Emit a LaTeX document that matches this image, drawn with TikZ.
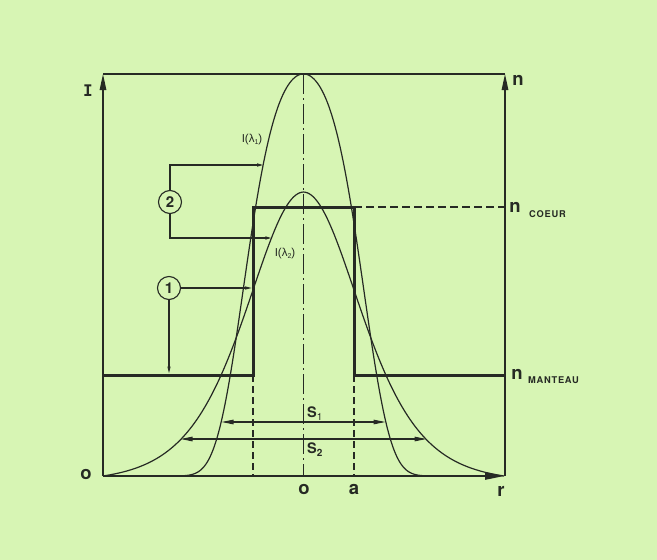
\documentclass[tikz,border=0pt]{standalone}
\usepackage{fontspec}
\setmainfont{TeX Gyre Heros}
\newfontfamily\monoI{DejaVu Sans Mono}
\newfontfamily\labfont{Liberation Sans}
\newfontfamily\spacedfont[LetterSpace=8]{TeX Gyre Heros}
\usetikzlibrary{arrows.meta}
\definecolor{bg}{RGB}{215,245,180}
\definecolor{ink}{RGB}{38,42,36}
\begin{document}
\begin{tikzpicture}[x=1pt,y=-1pt,
  declare function={
    lA(\t)=402*exp(-1.138*(\t/100)*(\t/100)-2.69*(\t/100)*(\t/100)*(\t/100)*(\t/100));
    lB(\t)=284*(1/(cosh(\t/76)*cosh(\t/76))-0.0202)/0.9798;},
  thinl/.style={draw=ink, line width=1.1pt},
  curvel/.style={draw=ink, line width=1.2pt},
  axisl/.style={draw=ink, line width=1.4pt},
  baseaxis/.style={draw=ink, line width=2.4pt},
  stepl/.style={draw=ink, line width=3pt, line join=miter},
  dashl/.style={draw=ink, line width=1.1pt, dash pattern=on 7pt off 4pt},
  centerl/.style={draw=ink, line width=1.1pt, dash pattern=on 20pt off 4pt on 2pt off 4pt},
  numcirc/.style={circle, draw=ink, line width=1.1pt, minimum size=23pt, inner sep=0pt, text=ink, font=\bfseries\fontsize{15}{15}\selectfont},
  biglab/.style={text=ink, inner sep=0pt, font=\bfseries\fontsize{18.5}{18.5}\selectfont},
  capslab/.style={text=ink, inner sep=0pt, font=\spacedfont\bfseries\fontsize{9.3}{10}\selectfont},
  slab/.style={text=ink, inner sep=0pt, font=\bfseries\fontsize{14.5}{14.5}\selectfont},
  curvelab/.style={text=ink, inner sep=0pt, font=\labfont\fontsize{11.5}{12}\selectfont},
  smalltip/.style={-{Triangle[length=6pt,width=3pt]}},
  midtip/.style={-{Triangle[length=7pt,width=3pt]}},
  stip/.style={{Triangle[length=12pt,width=4.5pt]}-{Triangle[length=12pt,width=4.5pt]}}
]
\fill[bg] (0,0) rectangle (657,560);
\useasboundingbox (0,0) rectangle (657,560);

% frame coordinates
\coordinate (O) at (103,476);
\coordinate (TL) at (103,74);
\coordinate (BR) at (505,476);
\coordinate (TR) at (505,74);
\coordinate (Ct) at (303.5,74);
\coordinate (Cb) at (303.5,476);
% step profile
\coordinate (mL) at (103,375);
\coordinate (s1b) at (253,375);
\coordinate (s1t) at (253,207);
\coordinate (s2t) at (354,207);
\coordinate (s2b) at (354,375);
\coordinate (mR) at (505,375);
\coordinate (cR) at (505,207);
\coordinate (d1) at (253,476);
\coordinate (d2) at (354,476);

% center line and dashed lines
\draw[centerl] (Ct) -- (Cb);
\draw[dashl] (s1b) -- (d1);
\draw[dashl] (s2b) -- (d2);
\draw[thinl, dash pattern=on 8pt off 4pt] (s2t) -- (cR);

% intensity curves
\draw[curvel] plot[domain=-127.5:127.5, samples=151, smooth] ({303.5+\x},{476-lA(\x)});
\draw[curvel] plot[domain=-200.5:200.5, samples=201, smooth] ({303.5+\x},{476-lB(\x)});

% step index profile
\draw[stepl] (mL) -- (s1b) -- (s1t) -- (s2t) -- (s2b) -- (mR);

% axes
\draw[axisl] (TL) -- (TR);
\draw[axisl, -{Triangle[length=16pt,width=6.5pt]}] (O) -- (TL);
\draw[axisl, -{Triangle[length=16pt,width=6.5pt]}] (BR) -- (TR);
\draw[baseaxis, -{Triangle[length=20pt,width=7pt]}] (O) -- (BR);

% marker 2
\node[numcirc] (c2) at (170,202) {2};
\coordinate (b2t) at (170,165);
\coordinate (b2te) at (263.2,165);
\coordinate (b2b) at (170,238);
\coordinate (b2be) at (271.4,238);
\draw[thinl, smalltip] (c2.north) -- (b2t) -- (b2te);
\draw[thinl, smalltip] (c2.south) -- (b2b) -- (b2be);

% marker 1
\node[numcirc] (c1) at (169,288) {1};
\coordinate (p1) at (252,288);
\coordinate (q1) at (169,373.5);
\draw[thinl, midtip] (c1.east) -- (p1);
\draw[thinl, midtip] (c1.south) -- (q1);

% widths S1, S2
\coordinate (s1l) at (221.5,422);
\coordinate (s1r) at (385.5,422);
\coordinate (s2l) at (180.5,439);
\coordinate (s2r) at (426.5,439);
\draw[thinl, stip] (s1l) -- (s1r);
\draw[thinl, stip] (s2l) -- (s2r);

% labels
\node[text=ink, inner sep=0pt, font=\monoI\bfseries\fontsize{16}{16}\selectfont] (labI) at (88,91) {I};
\node[biglab] (labn) at (518,80) {n};
\node[biglab] (labnc) at (515,207) {n};
\node[capslab, anchor=west] (labcoeur) at (529,214) {COEUR};
\node[biglab] (labnm) at (517,374) {n};
\node[capslab, anchor=west] (labmanteau) at (528,380) {MANTEAU};
\node[biglab] (labr) at (501,491) {r};
\node[biglab] (labo1) at (86,474) {o};
\node[biglab] (labo2) at (304,489) {o};
\node[biglab] (laba) at (354,489) {a};
\node[slab, anchor=west] (labS1) at (307,414) {S\raisebox{-3pt}{\mdseries\fontsize{10}{10}\selectfont 1}};
\node[slab, anchor=west] (labS2) at (307,450) {S\raisebox{-3pt}{\fontsize{10}{10}\selectfont 2}};
\node[curvelab] (labL1) at (252,140) {I(λ\raisebox{-2pt}{\fontsize{7}{7}\selectfont 1})};
\node[curvelab] (labL2) at (285,254) {I(λ\raisebox{-2pt}{\fontsize{7}{7}\selectfont 2})};
\end{tikzpicture}
\end{document}
